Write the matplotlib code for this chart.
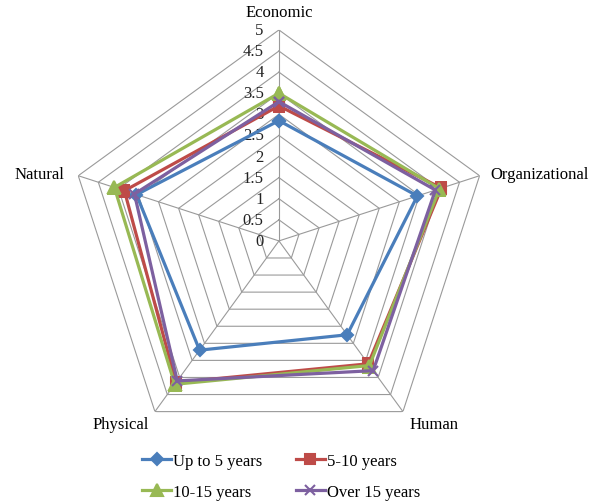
import matplotlib.pyplot as plt
import numpy as np

plt.rcParams['font.family'] = ['Liberation Serif', 'DejaVu Serif']

# Axes of the radar, clockwise from the top
categories = ['Economic', 'Organizational', 'Human', 'Physical', 'Natural']

# Mean scores per group of years
up_to_5 = [2.85, 3.45, 2.75, 3.2, 3.55]
y5_10 = [3.2, 4.05, 3.6, 4.15, 3.85]
y10_15 = [3.5, 4.0, 3.65, 4.2, 4.1]
over_15 = [3.3, 3.9, 3.8, 4.1, 3.6]

series_names = ['Up to 5 years', '5-10 years', '10-15 years', 'Over 15 years']
ticks = [0, 0.5, 1, 1.5, 2, 2.5, 3, 3.5, 4, 4.5, 5]

colors = ['#4A7EBB', '#BE4B48', '#98B954', '#7D60A0']
markers = ['D', 's', '^', 'x']
msizes = [6, 7, 8, 7]
fs = 12

n = len(categories)
theta = np.arange(n) * 2 * np.pi / n
theta_c = np.append(theta, theta[0])

fig = plt.figure(figsize=(5.96, 5.02), dpi=100)
ax = fig.add_axes([0.114, 0.0976, 0.708, 0.841], projection='polar')
ax.set_theta_offset(np.pi / 2)
ax.set_theta_direction(-1)
ax.set_ylim(0, 5)
ax.grid(False)
ax.spines['polar'].set_visible(False)
ax.set_xticks([])
ax.set_yticks([])
ax.patch.set_alpha(0)

grid_col = '#9A9A9A'
# pentagon gridlines
for r in ticks[1:]:
    ax.plot(theta_c, [r] * (n + 1), color=grid_col, lw=0.8, zorder=1)
# spokes
for t in theta:
    ax.plot([t, t], [0, 5], color=grid_col, lw=0.8, zorder=1)

# scale labels along the top spoke
for r in ticks:
    ax.annotate(f'{r:g}', xy=(0, r), xytext=(-11, 0), textcoords='offset points',
                ha='right', va='center', fontsize=fs, color='#222222')

# category labels
ax.annotate(categories[0], xy=(theta[0], 5), xytext=(0, 13), textcoords='offset points',
            ha='center', va='center', fontsize=fs)
ax.annotate(categories[1], xy=(theta[1], 5), xytext=(8, 1), textcoords='offset points',
            ha='left', va='center', fontsize=fs)
ax.annotate(categories[2], xy=(theta[2], 5), xytext=(5, -9), textcoords='offset points',
            ha='left', va='center', fontsize=fs)
ax.annotate(categories[3], xy=(theta[3], 5), xytext=(-4, -9), textcoords='offset points',
            ha='right', va='center', fontsize=fs)
ax.annotate(categories[4], xy=(theta[4], 5), xytext=(-10, 1), textcoords='offset points',
            ha='right', va='center', fontsize=fs)

handles = []
for vals, name, c, m, ms in zip([up_to_5, y5_10, y10_15, over_15], series_names,
                                colors, markers, msizes):
    v = np.append(vals, vals[0])
    h, = ax.plot(theta_c, v, color=c, lw=2.3, marker=m, markersize=ms,
                 markeredgewidth=1.5, label=name, zorder=3)
    handles.append(h)

order = [0, 2, 1, 3]
fig.legend([handles[i] for i in order], [series_names[i] for i in order],
           ncol=2, loc='lower center', bbox_to_anchor=(0.4715, -0.028),
           frameon=False, fontsize=fs, handlelength=1.75, handletextpad=0.1,
           columnspacing=2.0, labelspacing=0.92)

fig.savefig('out.png', dpi=100)
